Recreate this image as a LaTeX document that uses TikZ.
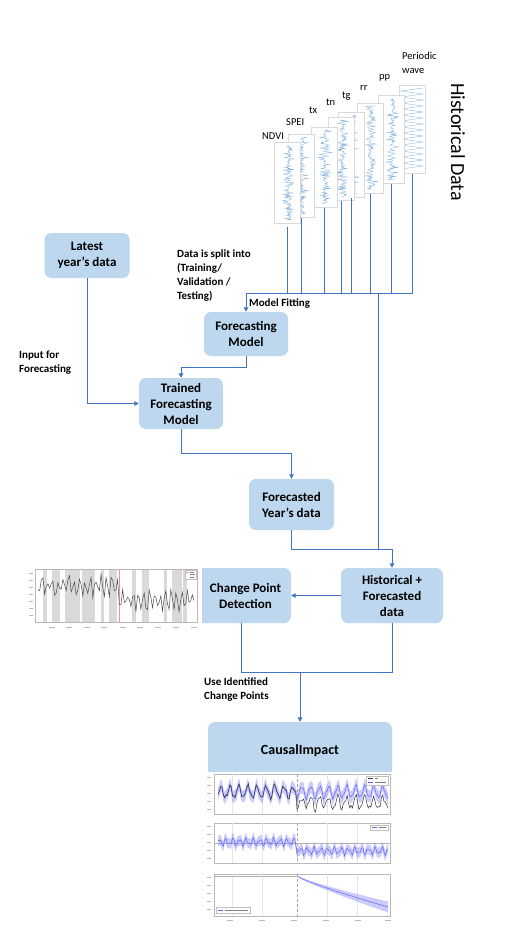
\documentclass[tikz,border=0pt]{standalone}
\usepackage{fontspec}
\setmainfont{Carlito}
\usepackage{tikz}
\usetikzlibrary{arrows.meta, positioning, calc}

\definecolor{boxblue}{RGB}{189,215,238}
\definecolor{linkblue}{RGB}{68,114,196}
\definecolor{serieblue}{RGB}{125,175,220}
\definecolor{bandblue}{RGB}{140,140,250}

\begin{document}
\begin{tikzpicture}[
    x=1pt, y=-1pt,
    stepbox/.style  = {fill=boxblue, rounded corners=7pt, align=center,
                       font=\fontsize{13}{16}\selectfont\bfseries, inner sep=0pt},
    note/.style     = {align=left, inner sep=0pt,
                       font=\fontsize{11}{14}\selectfont\bfseries},
    panel/.style    = {draw=gray!30, fill=white, line width=0.4pt,
                       minimum width=26pt, inner sep=0pt},
    panellab/.style = {font=\fontsize{10.5}{14}\selectfont, inner sep=0pt, align=left},
    arr/.style      = {-{Triangle[length=4.5pt, width=4.5pt]}, line width=1pt, linkblue},
    link/.style     = {line width=1pt, linkblue},
    wave/.style     = {serieblue, line width=0.3pt},
    axes/.style     = {draw=gray!55, line width=0.4pt},
    grid/.style     = {gray!20, line width=0.3pt},
    band/.style     = {fill=bandblue, fill opacity=0.45},
    mean/.style     = {bandblue!70!blue, line width=0.5pt},
    obs/.style      = {black!80, line width=0.5pt},
    cut/.style      = {gray!70, line width=0.5pt, densely dashed},
    ticklab/.style  = {gray!55, line width=0.7pt},
]
\useasboundingbox (0,0) rectangle (527,933);
\fill[white] (0,0) rectangle (527,933);
\pgfmathsetseed{11}

%% ── Historical data panels (back to front) ─────────────────────────────────
\node[panel, minimum height=88pt] (periodic) at (412,129) {};
\draw[wave] plot[domain=88:169, samples=28] ({412+11*cos((\x-88)*60)}, \x);

\foreach \name/\cx/\ytop/\ybot in {pp/391/95/183, rr/370/103/193, tg/351/112/197,
        tn/341/117/200, tx/324/127/207, spei/301/134/217, ndvi/287/142/223} {
    \node[panel, minimum height={(\ybot-\ytop)*1pt}] (\name) at (\cx,{(\ytop+\ybot)/2}) {};
    \draw[wave] plot[domain={\ytop+3}:{\ybot-3}, samples=120] ({\cx+1+8*rand*abs(rand)}, \x);
}

\node[panellab, anchor=base west] (ndvi-lab) at (262,139.5) {NDVI};
\node[panellab, anchor=base west] (spei-lab) at (286,126)   {SPEI};
\node[panellab, anchor=base west] (tx-lab)   at (309,114)   {tx};
\node[panellab, anchor=base west] (tn-lab)   at (326,106)   {tn};
\node[panellab, anchor=base west] (tg-lab)   at (342,99)    {tg};
\node[panellab, anchor=base west] (rr-lab)   at (360,91)    {rr};
\node[panellab, anchor=base west] (pp-lab)   at (379,80)    {pp};
\node[panellab, anchor=north west] (periodic-lab) at (402,52) {Periodic\\wave};

\node[font=\fontsize{20}{24}\selectfont, rotate=-90] (histlab) at (458,142) {Historical Data};

%% ── Flow boxes ──────────────────────────────────────────────────────────────
\node[stepbox, minimum width=85pt, minimum height=45pt] (latest)     at (87,255.5)    {Latest\\year's data};
\node[stepbox, minimum width=84pt, minimum height=44pt] (fcmodel)    at (246,334)     {Forecasting\\Model};
\node[stepbox, minimum width=84pt, minimum height=51pt] (trained)    at (181,403.5)   {Trained\\Forecasting\\Model};
\node[stepbox, minimum width=85pt, minimum height=51pt] (forecasted) at (291.5,504.5) {Forecasted\\Year's data};
\node[stepbox, minimum width=102pt, minimum height=55pt] (histfc)    at (392,595.5)   {Historical +\\Forecasted\\data};
\node[stepbox, minimum width=99pt, minimum height=55pt] (cpd)        at (241.5,595.5) {\hspace*{8pt}Change Point\\\hspace*{8pt}Detection};
\node[stepbox, minimum width=184pt, minimum height=58pt,
      font=\fontsize{14}{17}\selectfont\bfseries] (causal)          at (300,751)     {CausalImpact};

%% ── Notes ───────────────────────────────────────────────────────────────────
\node[note, anchor=north west] (splitnote) at (177,250) {Data is split into\\(Training/\\Validation /\\Testing)};
\node[note, anchor=west]       (fitnote)   at (249,304) {Model Fitting};
\node[note, anchor=north west] (inputnote) at (19,351)  {Input for\\Forecasting};
\node[note, anchor=north west] (usenote)   at (204,678) {Use Identified\\Change Points};

%% ── Data bus and arrows ─────────────────────────────────────────────────────
\coordinate (bus)   at (246,293);
\coordinate (split) at (378,293);
\coordinate (merge) at (392,549);
\coordinate (join)  at (300,672);

\draw[link] (ndvi.south)     ++(0,4) -- (ndvi.south |- bus);
\draw[link] (spei.south)     ++(0,1) -- (spei.south |- bus);
\draw[link] (tx.south)       ++(0,1) -- (tx.south |- bus);
\draw[link] (tn.south)       ++(0,1) -- (tn.south |- bus);
\draw[link] (tg.south)       ++(0,1) -- (tg.south |- bus);
\draw[link] (rr.south)       ++(0,1) -- (rr.south |- bus);
\draw[link] (pp.south)       ++(0,1) -- (pp.south |- bus);
\draw[link] (periodic.south) ++(0,1) -- (periodic.south |- bus) -- (bus);
\draw[arr]  (bus) -- (fcmodel);

\draw[arr] (latest.south) |- (trained.west);
\draw[arr] (fcmodel.south) -- ++(0,11) -| (trained.north);
\draw[arr] (trained.south) -- ++(0,24) -| (forecasted.north);
\draw[link] (split) |- (merge);
\draw[link] (forecasted.south) |- (merge);
\draw[arr] (merge) -- (histfc.north);
\draw[arr] (histfc.west) -- (cpd.east);
\draw[link] (cpd.south) -- (cpd.south |- join) -- (histfc.south |- join) -- (histfc.south);
\draw[arr] (join) -- (causal);

%% ── Change point plot ───────────────────────────────────────────────────────
\fill[white] (27,565) rectangle (202,631);
\foreach \a/\b in {43/47, 52/60, 65/80, 82/95, 101/104, 109/117,
                   132/136, 142/149, 164/167, 172/182, 183/187}
    \fill[gray!30] (\a,569) rectangle (\b,622);
\draw[red!45, line width=0.8pt] (119,569) -- (119,622);
\draw[obs, black!70] plot[domain=38:194, samples=95]
    (\x, {(\x<119 ? 586 : 600) + 8*sin((\x-38)*67) + 5*rand});
\draw[axes] (35,569) rectangle (197,622);
\foreach \ty in {573,580,587,594,601,608,615} \draw[ticklab] (29,\ty) -- (33,\ty);
\foreach \tk in {52,69,87,104,123,140,158,176,194} \draw[ticklab] (\tk-3,627) -- (\tk+3,627);
\draw[gray!50, line width=0.3pt, fill=white] (185,570) rectangle (196,579);
\draw[red!45, line width=0.4pt] (186,572) -- (189,572);
\draw[gray, line width=0.3pt] (190,572) -- (194,572) (190,574.5) -- (195,574.5) (190,577) -- (194,577);

%% ── CausalImpact plots ──────────────────────────────────────────────────────
\fill[white] (206,772) rectangle (394,925);

% observed vs predicted
\draw[axes] (214,774) rectangle (390,814);
\foreach \gx in {232,262,327,357} \draw[grid] (\gx,774) -- (\gx,814);
\fill[band] plot[domain=218:388, samples=130] (\x, {792+6*sin((\x-214)*40)+2*sin((\x-214)*83)-6})
    -- plot[domain=388:218, samples=130] (\x, {792+6*sin((\x-214)*40)+2*sin((\x-214)*83)+6}) -- cycle;
\draw[mean] plot[domain=218:388, samples=130] (\x, {792+6*sin((\x-214)*40)+2*sin((\x-214)*83)});
\draw[obs] plot[domain=218:388, samples=130]
    (\x, {792+6*sin((\x-214)*40)+2*sin((\x-214)*83)+(\x>297 ? 11 : 0)+2.5*rand});
\draw[gray!50, line width=0.3pt, fill=white] (366,776) rectangle (388,785);
\draw[obs]  (368,778.5) -- (373,778.5);
\draw[mean] (368,782.5) -- (373,782.5);
\draw[gray, line width=0.3pt] (375,778.5) -- (378,778.5) (375,782.5) -- (386,782.5);

% pointwise effects
\draw[axes] (214,823) rectangle (390,863);
\foreach \gx in {232,262,327,357} \draw[grid] (\gx,823) -- (\gx,863);
\draw[gray!60, line width=0.4pt] (214,843) -- (390,843);
\fill[band] plot[domain=218:388, samples=130] (\x, {842+(\x>297 ? 9 : 0)+3*sin((\x-214)*53)+2*sin((\x-214)*89)-5})
    -- plot[domain=388:218, samples=130] (\x, {842+(\x>297 ? 9 : 0)+3*sin((\x-214)*53)+2*sin((\x-214)*89)+5}) -- cycle;
\draw[mean] plot[domain=218:388, samples=130] (\x, {842+(\x>297 ? 9 : 0)+3*sin((\x-214)*53)+2*sin((\x-214)*89)});
\draw[gray!50, line width=0.3pt, fill=white] (370,825) rectangle (388,830);
\draw[mean] (372,827.5) -- (377,827.5);
\draw[gray, line width=0.3pt] (379,827.5) -- (386,827.5);

% cumulative effect
\draw[axes] (214,874) rectangle (390,916);
\foreach \gx in {232,262,327,357} \draw[grid] (\gx,874) -- (\gx,916);
\draw[gray!60, line width=0.4pt] (214,876) -- (297,876);
\fill[band] plot[domain=297.5:388, samples=60] (\x, {876+31*((\x-297)/91)^0.85-(0.5+5*(\x-297)/91)})
    -- plot[domain=388:297.5, samples=60] (\x, {876+31*((\x-297)/91)^0.85+(0.5+5*(\x-297)/91)}) -- cycle;
\draw[mean] plot[domain=297.5:388, samples=60] (\x, {876+31*((\x-297)/91)^0.85});
\draw[gray!50, line width=0.3pt, fill=white] (216,907) rectangle (250,913);
\draw[mean] (218,910) -- (223,910);
\draw[gray, line width=0.3pt] (225,910) -- (248,910);

% intervention line and axis marks
\draw[cut] (297,774) -- (297,814) (297,823) -- (297,863) (297,874) -- (297,916);
\foreach \ty in {777,785,793,801,809, 826,834,842,850,858, 877,885,893,901,909}
    \draw[ticklab] (207,\ty) -- (211,\ty);
\foreach \tk in {230,262,294,326,358,388} \draw[ticklab] (\tk-3,920) -- (\tk+3,920);

\end{tikzpicture}
\end{document}
